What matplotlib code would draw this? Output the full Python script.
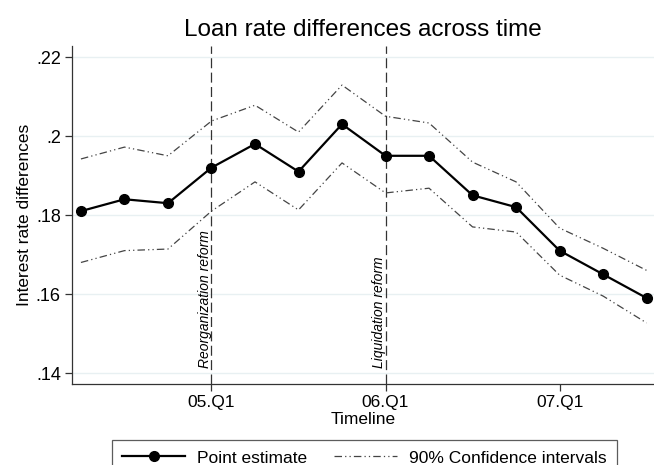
"""
plot.py

Loan rate differences across time, point estimate with 90% bands
"""

import matplotlib
matplotlib.use("Agg")
import matplotlib.pyplot as plt
from matplotlib.lines import Line2D

# quarters shown on the x axis
quarters = ["04.Q2", "04.Q3", "04.Q4",
            "05.Q1", "05.Q2", "05.Q3", "05.Q4",
            "06.Q1", "06.Q2", "06.Q3", "06.Q4",
            "07.Q1", "07.Q2", "07.Q3"]
estimate = [0.181, 0.184, 0.183, 0.192, 0.198, 0.191, 0.203,
            0.195, 0.195, 0.185, 0.182, 0.171, 0.165, 0.159]
upper = [0.1942, 0.1972, 0.1950, 0.2038, 0.2078, 0.2010, 0.2129,
         0.2050, 0.2033, 0.1934, 0.1884, 0.1767, 0.1716, 0.1660]
lower = [0.1680, 0.1710, 0.1714, 0.1810, 0.1884, 0.1813, 0.1932,
         0.1856, 0.1868, 0.1770, 0.1757, 0.1648, 0.1595, 0.1527]

xtick_labels = ["05.Q1", "06.Q1", "07.Q1"]
ytick_values = [0.14, 0.16, 0.18, 0.20, 0.22]
ytick_labels = [".14", ".16", ".18", ".2", ".22"]
reforms = [("05.Q1", "Reorganization reform"), ("06.Q1", "Liquidation reform")]

plt.rcParams["font.family"] = ["Liberation Sans", "DejaVu Sans"]

fig = plt.figure(figsize=(6.54, 4.65), dpi=100)
ax = fig.add_axes([0.110, 0.174, 0.890, 0.727])

x = list(range(len(quarters)))
ci_style = (0, (6, 2.5, 1, 2.5, 1, 2.5))
ax.plot(x, upper, color="#444444", lw=0.9, linestyle=ci_style)
ax.plot(x, lower, color="#444444", lw=0.9, linestyle=ci_style)
ax.plot(x, estimate, color="black", lw=1.6, marker="o", markersize=7)

ybot = 0.1413
for q, label in reforms:
    xi = quarters.index(q)
    ax.axvline(xi, color="#333333", lw=0.9, linestyle=(0, (8, 3.5)), zorder=1)
    ax.text(xi + 0.02, ybot, label, rotation=90, ha="right", va="bottom",
            fontsize=10, style="italic")

ax.set_xlim(-0.207, 13.17)
ax.set_ylim(0.13722, 0.22278)
ax.set_xticks([quarters.index(q) for q in xtick_labels])
ax.set_xticklabels(xtick_labels, fontsize=12.5)
ax.set_yticks(ytick_values)
ax.set_yticklabels(ytick_labels, fontsize=13)
ax.yaxis.grid(True, color="#e8f0f2", lw=1.0)
ax.set_axisbelow(True)
for side in ["top", "right"]:
    ax.spines[side].set_visible(False)
for side in ["left", "bottom"]:
    ax.spines[side].set_color("#333333")
    ax.spines[side].set_linewidth(0.9)
ax.tick_params(direction="out", length=5, width=0.9, color="#333333", pad=3)

ax.set_title("Loan rate differences across time", fontsize=17.5, pad=7)
ax.set_xlabel("Timeline", fontsize=12.5, labelpad=1)
ax.set_ylabel("Interest rate differences", fontsize=12.5, labelpad=3)

handles = [
    Line2D([], [], color="black", lw=1.6, marker="o", markersize=7),
    Line2D([], [], color="#444444", lw=0.9, linestyle=ci_style),
]
top = 1 - 440 / 465
leg = fig.legend(handles, ["Point estimate", "90% Confidence intervals"],
                 loc="upper left",
                 bbox_to_anchor=(112 / 654, top - 0.1, 505 / 654, 0.1),
                 mode="expand", ncol=2, fontsize=12.5, frameon=True,
                 fancybox=False, edgecolor="#333333", handlelength=3.6,
                 handletextpad=0.7, borderpad=0.6, borderaxespad=0)
leg.get_frame().set_linewidth(0.9)

fig.savefig("out.png", dpi=100)
